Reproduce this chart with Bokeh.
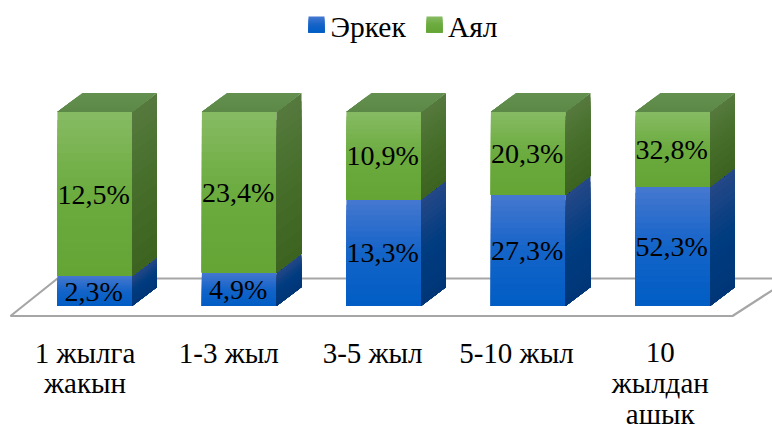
from bokeh.plotting import figure
from bokeh.core.properties import value
from bokeh.embed import file_html
from bokeh.resources import INLINE
from bokeh.models import Range1d

categories = ["1 жылга\nжакын", "1-3 жыл", "3-5 жыл", "5-10 жыл", "10\nжылдан\nашык"]
male = [2.3, 4.9, 13.3, 27.3, 52.3]
female = [12.5, 23.4, 10.9, 20.3, 32.8]
male_name = "Эркек"
female_name = "Аял"

W, H = 772, 428
STEP = 144.5          # px per category
UNIT = 1.94           # px per percent of the stack
X0 = 94.2             # px of the first category inside the figure
Y0 = 305.6            # px from top of the stack's base inside the figure
HALF = 37.3 / STEP
DX, DY = 25 / STEP, 19 / UNIT
FONT = "Liberation Serif"

p = figure(width=W, height=H, output_backend="svg", toolbar_location=None,
           x_range=Range1d(-X0 / STEP, (W - X0) / STEP),
           y_range=Range1d(-(H - Y0) / UNIT, Y0 / UNIT),
           min_border=0)
p.axis.visible = False
p.grid.visible = False
p.outline_line_color = None


def px(x_abs):
    return (x_abs - X0) / STEP


def py(y_abs):
    return (Y0 - y_abs) / UNIT


def mix(stops, t):
    for (a, ca), (b, cb) in zip(stops, stops[1:]):
        if t <= b:
            f = (t - a) / (b - a)
            return "#%02x%02x%02x" % tuple(round(u + (v - u) * f) for u, v in zip(ca, cb))
    return "#%02x%02x%02x" % stops[-1][1]


G_FRONT = [(0, (134, 187, 100)), (.5, (108, 171, 62)), (1, (100, 165, 54))]
G_SIDE = [(0, (86, 122, 62)), (.5, (70, 110, 42)), (1, (60, 100, 32))]
B_FRONT = [(0, (70, 120, 208)), (.5, (20, 100, 200)), (1, (0, 93, 196))]
B_SIDE = [(0, (38, 72, 135)), (.5, (0, 60, 128)), (1, (0, 54, 120))]
TOP = [(0, (100, 145, 80)), (1, (92, 136, 70))]


def face(xs_at, y0, y1, stops, n=20):
    """Vertical gradient of a stack segment: each strip reaches down to y0, the next paints over it."""
    xs, ys, cs = [], [], []
    for k in range(n):
        a = y1 + (y0 - y1) * k / n
        x, y = xs_at(a, y0)
        xs.append(x)
        ys.append(y)
        cs.append(mix(stops, (k + .5) / n))
    p.patches(xs, ys, fill_color=cs, line_color=None)


# floor
fx = [px(10), px(57), px(790), px(732)]
fy = [py(315.5), py(278), py(278), py(315.5)]
p.patch(fx, fy, fill_color="white", line_color="#a6a6a6", line_width=2.2)

# bars
for i, (m, f) in enumerate(zip(male, female)):
    share = 100 * m / (m + f)
    L, R = i - HALF, i + HALF
    for y0, y1, front, side in ((0, share, B_FRONT, B_SIDE), (share, 100, G_FRONT, G_SIDE)):
        face(lambda a, b: ([L, R, R, L], [a, a, b, b]), y0, y1, front)
        face(lambda a, b: ([R, R + DX, R + DX, R], [a, a + DY, b + DY, b]), y0, y1, side)
    face(lambda a, b: ([L + (a - 100) / DY * DX, R + (a - 100) / DY * DX,
                        R + (b - 100) / DY * DX, L + (b - 100) / DY * DX], [a, a, b, b]),
         100, 100 + DY, TOP, n=8)

# value labels
lx, ly, lt = [], [], []
for i, (m, f) in enumerate(zip(male, female)):
    share = 100 * m / (m + f)
    lx += [i - 0.008, i - 0.008]
    ly += [share / 2, (share + 100) / 2]
    lt += [f"{m:.1f}%".replace(".", ","), f"{f:.1f}%".replace(".", ",")]
p.text(lx, ly, text=lt, text_font=value(FONT), text_font_size="28px", text_color="black",
       text_align="center", text_baseline="middle")

# category labels, one row per line of the label
cx, cy, ct = [], [], []
for i, label in enumerate(categories):
    for j, line in enumerate(label.split("\n")):
        cx.append(px(84.5 + i * 143.8))
        cy.append(py(352 + j * 30.5))
        ct.append(line)
p.text(cx, cy, text=ct, text_font=value(FONT), text_font_size="29px", text_color="black",
       text_align="center", text_baseline="middle")

# legend
for name, stops, x_a, x_t in ((male_name, B_FRONT, 308, 330), (female_name, G_FRONT, 426, 447.5)):
    a, b = px(x_a), px(x_a + 16)
    face(lambda u, v: ([a, b, b, a], [u, u, v, v]), py(32), py(16), stops, n=8)
    p.text([px(x_t)], [py(26)], text=[name], text_font=value(FONT), text_font_size="29.5px",
           text_color="black", text_align="left", text_baseline="middle")

open("out.html", "w").write(file_html(p, INLINE))
